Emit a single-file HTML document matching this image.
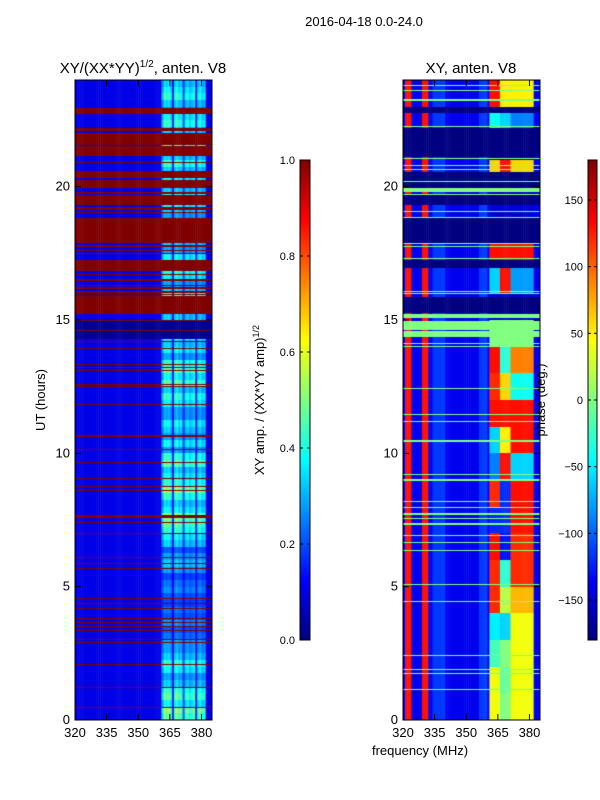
<!DOCTYPE html>
<html><head><meta charset="utf-8">
<style>
body{margin:0;background:#fff;width:600px;height:800px;overflow:hidden;font-family:"Liberation Sans",sans-serif;}
#wrap{position:relative;width:600px;height:800px;}
canvas{position:absolute;}
svg{position:absolute;left:0;top:0;}
text{font-family:"Liberation Sans",sans-serif;fill:#000;}
</style></head>
<body>
<div id="wrap">
<canvas id="c1" width="137" height="640" style="left:75px;top:80px"></canvas>
<canvas id="c2" width="137" height="640" style="left:403px;top:80px"></canvas>
<canvas id="cb1" width="10" height="480" style="left:300px;top:160px"></canvas>
<canvas id="cb2" width="9" height="480" style="left:588px;top:160px"></canvas>
<svg id="ov" width="600" height="800"></svg>
</div>
<script>
// ---------- data ----------
const freqStart = 320, freqEnd = 385, hourMin = 0, hourMax = 24;
const xTicks = [320, 335, 350, 365, 380];
const yTicks = [0, 5, 10, 15, 20];
const ampTicks = [0.0, 0.2, 0.4, 0.6, 0.8, 1.0];
const phaseTicks = [-150, -100, -50, 0, 50, 100, 150];
// amplitude level of bright channels per 0.25 h
const ampRowLevels = [
0.5,0.55,0.4,0.5,0.45,0.35,0.3,0.4,0.45,0.35,0.3,0.3,
0.25,0.22,0.28,0.22,0.25,0.2,0.22,0.28,0.25,0.2,0.3,0.35,0.3,0.22,0.35,0.4,
0.45,0.5,0.55,0.4,0.35,0.45,0.55,0.45,
0.4,0.35,0.5,0.45,0.3,0.4,0.3,0.35,
0.4,0.3,0.3,0.4,0.45,0.35,0.5,0.4,
0.5,0.45,0.3,0.4,0.35,0.45,0.1,0.1,
0.35,0.4,0.4,0.45,0.35,0.3,0.4,0.45,0.35,0.4,0.3,0.35,
0.35,0.45,0.4,0.3,0.35,0.4,0.45,0.35,0.3,0.4,0.35,0.45,
0.35,0.3,0.45,0.5,0.35,0.45,0.4,0.3,0.35,0.45,0.4,0.35];
// channel weights 320..385 MHz
const ampColWeights = [
0,0,0,0,0,0,0,0,0,0, 0,0,0,0,0,0,0,0,0,0, 0,0,0,0,0,0,0,0,0,0, 0,0,0,0,0,0,0,0,0,0, 0,
0.6,1,0.9,1,0.8,0.2,0.9,1,0.8,0.9,0.3,0.8,0.9,0.7,0.8,0.9,0.2,0.8,0.9,0.7,0.8,0,0,0,0,0];
const ampBackground = 0.1;
const ampFlagBands = [[22.71,22.96],[22.08,22.2],[21.56,22.03],[21.14,21.51],[20.88,20.92],[20.34,20.59],[19.94,20.26],[19.74,19.81],[19.31,19.69],[19.14,19.24],[19.01,19.05],[17.88,18.84],[17.74,17.81],[17.58,17.62],[17.48,17.52],[16.84,17.24],[16.67,16.73],[16.47,16.53],[16.27,16.33],[16.17,16.23],[16.03,16.07],[15.93,15.97],[15.21,15.89],[14.96,15.0],[14.58,14.62],[14.17,14.21],[13.92,13.96],[13.32,13.36],[13.2,13.24],[13.07,13.11],[12.57,12.61],[12.47,12.51],[11.8,11.85],[10.63,10.67],[10.13,10.17],[9.65,9.69],[9.04,9.08],[8.75,8.79],[8.6,8.64],[7.57,7.67],[7.39,7.43],[6.98,7.02],[6.08,6.12],[5.85,5.89],[5.67,5.71],[4.54,4.58],[4.35,4.39],[4.17,4.21],[3.79,3.83],[3.64,3.68],[3.48,3.52],[3.35,3.39],[3.01,3.05],[2.89,2.93],[2.07,2.11],[1.21,1.25],[0.46,0.5]];
const ampLowBands = [[14.3,14.96]];
// phase data
const phaseBackground = -140;
const phaseLightCols = [[334,340],[356,360]];
const phaseLightValue = -115;
const phaseRedCols = [[321,324],[329,332]];
const phaseRedValue = 130;
const phaseRowCol1 = [40,40,-20,-50,120,120,130,-120,120,-90,-60,130,120,130,0,-150,-60,130,-150,-150,60,-170,-40,130];
const phaseRowCol2 = [0,-10,0,-60,20,-30,-130,-120,-120,130,50,130,60,-30,0,-150,130,130,-150,-150,130,-170,-60,50];
const phaseRowCol3 = [40,40,40,40,70,120,120,130,130,-60,130,130,-40,90,0,-150,-80,130,-150,-150,60,-170,-90,50];
const phaseFlagBands = [[22.75,23.0],[21.1,22.2],[19.94,20.56],[19.31,19.69],[17.88,18.84],[16.94,17.25],[15.26,15.85]];
const phaseZeroBands = [[23.77,23.81],[23.57,23.61],[23.22,23.28],[22.23,22.27],[21.04,21.08],[20.79,20.83],[20.61,20.65],[20.19,20.23],[19.81,19.94],[19.69,19.73],[19.04,19.08],[18.82,18.86],[17.86,17.9],[17.73,17.77],[17.27,17.31],[16.04,16.08],[15.98,16.02],[15.06,15.21],[14.38,14.58],[14.62,14.96],[14.1,14.14],[13.98,14.02],[12.42,12.46],[11.42,11.46],[11.18,11.22],[10.42,10.5],[9.2,9.24],[8.98,9.02],[8.17,8.21],[7.95,7.99],[7.69,7.77],[7.53,7.57],[7.33,7.37],[6.91,6.95],[6.63,6.67],[6.33,6.37],[5.07,5.11],[4.43,4.47],[2.41,2.45],[1.88,1.92],[1.71,1.75],[1.11,1.15]];

// ---------- helpers ----------
function jet(v){v=Math.max(0,Math.min(1,v));const c=x=>Math.round(255*Math.max(0,Math.min(1,x)));
return `rgb(${c(1.5-Math.abs(4*v-3))},${c(1.5-Math.abs(4*v-2))},${c(1.5-Math.abs(4*v-1))})`;}
const W=137,H=640;
const xScale=f=>(f-freqStart)/(freqEnd-freqStart)*W;
const yScale=h=>H-(h-hourMin)/(hourMax-hourMin)*H;
const inBands=(h,b)=>b.some(r=>h>=r[0]&&h<r[1]);
function drawHeat(ctx,valFn){
  for(let py=0;py<H;py++){
    const h=hourMax-(py+0.5)/H*(hourMax-hourMin);
    for(let f=freqStart;f<freqEnd;f++){
      ctx.fillStyle=jet(valFn(h,f));
      const x0=xScale(f),x1=xScale(f+1);
      ctx.fillRect(x0,py,x1-x0+0.5,1);
    }
  }
}
drawHeat(document.getElementById('c1').getContext('2d'),(h,f)=>{
  if(inBands(h,ampFlagBands))return 1;
  if(inBands(h,ampLowBands))return 0.02;
  const lvl=ampRowLevels[Math.min(95,Math.floor(h*4))];
  const w=ampColWeights[f-freqStart]||0;
  return ampBackground+(lvl-ampBackground)*w;
});
drawHeat(document.getElementById('c2').getContext('2d'),(h,f)=>{
  let p;
  if(inBands(h,phaseZeroBands))p=0;
  else if(inBands(h,phaseFlagBands))p=-180;
  else{
    const hi=Math.min(23,Math.floor(h));
    if(f>=361&&f<366)p=phaseRowCol1[hi];
    else if(f>=366&&f<371)p=phaseRowCol2[hi];
    else if(f>=371&&f<382)p=phaseRowCol3[hi];
    else if(phaseRedCols.some(r=>f>=r[0]&&f<r[1]))p=phaseRedValue;
    else if(phaseLightCols.some(r=>f>=r[0]&&f<r[1]))p=phaseLightValue;
    else p=phaseBackground;
  }
  return (p+180)/360;
});
[['cb1',10],['cb2',9]].forEach(([id,w])=>{const ctx=document.getElementById(id).getContext('2d');
  for(let y=0;y<480;y++){ctx.fillStyle=jet(1-(y+0.5)/480);ctx.fillRect(0,y,w,1);}});

// ---------- axes ----------
const svg=document.getElementById('ov');const NS='http://www.w3.org/2000/svg';
function el(tag,attrs,txt){const e=document.createElementNS(NS,tag);for(const k in attrs)e.setAttribute(k,attrs[k]);if(txt!==undefined)e.textContent=txt;svg.appendChild(e);return e;}
function axes(ox,prefix){
  const r=el('rect',{x:ox,y:80,width:W,height:H,fill:'none',stroke:'#000','stroke-width':1});
  
  
  xTicks.forEach(t=>{const x=ox+xScale(t);
    el('line',{x1:x,y1:720,x2:x,y2:714,stroke:'#000'});el('line',{x1:x,y1:80,x2:x,y2:86,stroke:'#000'});
    const tx=el('text',{x:x,y:737,'font-size':13,'text-anchor':'middle'},String(t));
    
    });
  yTicks.forEach(t=>{const y=80+yScale(t);
    el('line',{x1:ox,y1:y,x2:ox+6,y2:y,stroke:'#000'});el('line',{x1:ox+W,y1:y,x2:ox+W-6,y2:y,stroke:'#000'});
    const ty=el('text',{x:ox-5,y:y+4,'font-size':13,'text-anchor':'end'},String(t));
    
    });
}
axes(75,'amp');axes(403,'phase');
function cbar(x,w,ticks,lo,hi,prefix){
  el('rect',{x:x,y:160,width:w,height:480,fill:'none',stroke:'#000'});
  ticks.forEach(t=>{const y=640-(t-lo)/(hi-lo)*480;
    el('line',{x1:x,y1:y,x2:x+3,y2:y,stroke:'#000'});el('line',{x1:x+w,y1:y,x2:x+w-3,y2:y,stroke:'#000'});
    const tl=el('text',{x:x-5,y:y+4,'font-size':11,'text-anchor':'end'},prefix==='amp'?t.toFixed(1):(t<0?'\u2212'+(-t):String(t)));
    
    });
}
cbar(300,10,ampTicks,0,1,'amp');cbar(588,9,phaseTicks,-180,180,'phase');
</script>
<svg width="600" height="800" style="position:absolute;left:0;top:0;pointer-events:none">
<text x="364" y="26" font-size="13" text-anchor="middle">2016-04-18 0.0-24.0</text>
<text x="143" y="73" font-size="15" text-anchor="middle">XY/(XX*YY)<tspan font-size="10" dy="-6">1/2</tspan><tspan dy="6">, anten. V8</tspan></text>
<text x="471" y="73" font-size="15" text-anchor="middle">XY, anten. V8</text>
<text transform="translate(45,400) rotate(-90)" font-size="13" text-anchor="middle">UT (hours)</text>
<text x="420" y="755" font-size="13" text-anchor="middle">frequency (MHz)</text>
<text transform="translate(264,400) rotate(-90)" font-size="13" text-anchor="middle">XY amp. / (XX*YY amp)<tspan font-size="9" dy="-5">1/2</tspan></text>
<text transform="translate(545,400) rotate(-90)" font-size="13" text-anchor="middle">phase (deg.)</text>
</svg>
</body></html>
